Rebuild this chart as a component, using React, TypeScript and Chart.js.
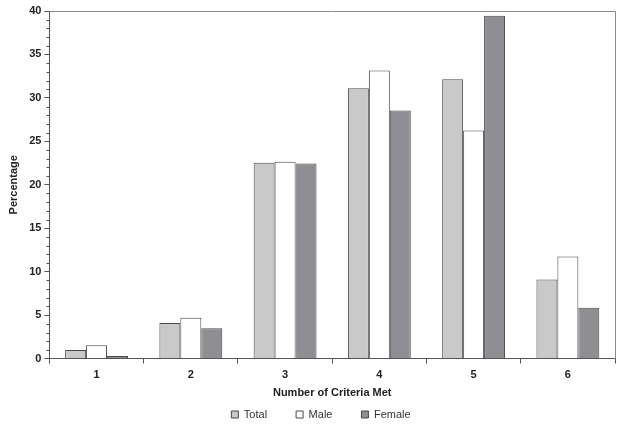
import React, { useEffect, useRef } from "react";
import { Chart, registerables } from "chart.js";

Chart.register(...registerables);

const categories = ["1", "2", "3", "4", "5", "6"];
const totalValues = [1.0, 4.1, 22.55, 31.1, 32.15, 9.1];
const maleValues = [1.55, 4.7, 22.65, 33.15, 26.25, 11.75];
const femaleValues = [0.3, 3.5, 22.45, 28.55, 39.45, 5.85];
const yMin = 0;
const yMax = 40;
const yMajorStep = 5;

const FONT = "'Liberation Sans', Arial, sans-serif";

const frameAndMinorTicks = {
  id: "frameAndMinorTicks",
  afterDraw(chart: any) {
    const { ctx, chartArea } = chart;
    const y = chart.scales.y;
    ctx.save();
    ctx.strokeStyle = "#8a8a8a";
    ctx.lineWidth = 1;
    ctx.beginPath();
    ctx.moveTo(chartArea.left, chartArea.top + 0.5);
    ctx.lineTo(chartArea.right + 0.5, chartArea.top + 0.5);
    ctx.lineTo(chartArea.right + 0.5, chartArea.bottom);
    ctx.stroke();
    ctx.strokeStyle = "#555";
    ctx.beginPath();
    for (let v = yMin; v <= yMax; v += 1) {
      if (v % yMajorStep === 0) continue;
      const py = Math.round(y.getPixelForValue(v)) + 0.5;
      ctx.moveTo(chartArea.left - 3, py);
      ctx.lineTo(chartArea.left, py);
    }
    ctx.stroke();
    ctx.restore();
  },
};

export default function App() {
  const ref = useRef<HTMLCanvasElement | null>(null);
  useEffect(() => {
    document.body.style.margin = "0";
    const border = "#4a4a4a";
    const chart = new Chart(ref.current as HTMLCanvasElement, {
      type: "bar",
      data: {
        labels: categories,
        datasets: [
          { label: "Total", data: totalValues, backgroundColor: "#c9c9c9", borderColor: border, borderWidth: 1 },
          { label: "Male", data: maleValues, backgroundColor: "#ffffff", borderColor: border, borderWidth: 1 },
          { label: "Female", data: femaleValues, backgroundColor: "#8f8f93", borderColor: border, borderWidth: 1 },
        ],
      },
      options: {
        animation: false,
        responsive: false,
        maintainAspectRatio: false,
        layout: { padding: { left: 27, right: 9, top: 11, bottom: 0 } },
        datasets: { bar: { categoryPercentage: 0.667, barPercentage: 1.0 } },
        plugins: {
          legend: {
            position: "bottom",
            maxHeight: 46,
            labels: {
              boxWidth: 7,
              boxHeight: 7,
              padding: 29,
              color: "#333",
              font: { family: FONT, size: 11 },
            },
          },
          tooltip: { enabled: false },
        },
        scales: {
          x: {
            grid: { drawOnChartArea: false, offset: true, tickLength: 5, color: "#555" },
            border: { color: "#555", width: 1 },
            ticks: { color: "#222", font: { family: FONT, size: 11, weight: "bold" }, padding: 5 },
            title: {
              display: true,
              text: "Number of Criteria Met",
              color: "#222",
              font: { family: FONT, size: 11, weight: "bold" },
              padding: { top: 0, bottom: -20 },
            },
          },
          y: {
            min: yMin,
            max: yMax,
            grid: {
              drawOnChartArea: false,
              tickLength: 5,
              tickColor: (c: any) => (c.tick && c.tick.value % yMajorStep === 0 ? "#555" : "rgba(0,0,0,0)"),
            },
            border: { color: "#555", width: 1 },
            ticks: {
              stepSize: 1,
              autoSkip: false,
              color: "#222",
              padding: 3,
              font: { family: FONT, size: 11, weight: "bold" },
              callback: (v: any) => (Number(v) % yMajorStep === 0 ? String(v) : ""),
            },
            title: {
              display: true,
              text: "Percentage",
              color: "#222",
              font: { family: FONT, size: 11, weight: "bold" },
              padding: { top: -20, bottom: 6 },
            },
          },
        },
      },
      plugins: [frameAndMinorTicks],
    });
    return () => chart.destroy();
  }, []);
  return (
    <div style={{ width: 624, height: 426 }}>
      <canvas ref={ref} width={624} height={426} style={{ width: 624, height: 426 }} />
    </div>
  );
}
